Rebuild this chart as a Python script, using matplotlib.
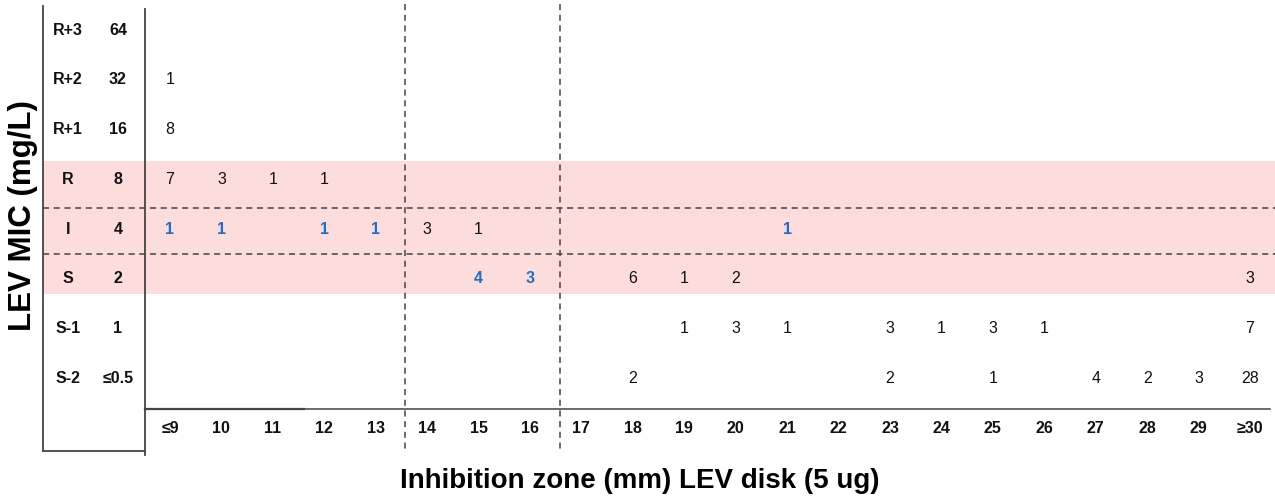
import matplotlib.pyplot as plt

plt.rcParams['font.family'] = ['Liberation Sans', 'DejaVu Sans']

# zone diameter columns (mm) and MIC rows
zones = ['≤9', '10', '11', '12', '13', '14', '15', '16', '17', '18', '19',
         '20', '21', '22', '23', '24', '25', '26', '27', '28', '29', '≥30']
row_codes = ['R+3', 'R+2', 'R+1', 'R', 'I', 'S', 'S-1', 'S-2']
mic_values = ['64', '32', '16', '8', '4', '2', '1', '≤0.5']

# isolate counts per row: {zone label: count}
counts_r3 = {}
counts_r2 = {'≤9': 1}
counts_r1 = {'≤9': 8}
counts_r = {'≤9': 7, '10': 3, '11': 1, '12': 1}
counts_i = {'≤9': 1, '10': 1, '12': 1, '13': 1, '14': 3, '15': 1, '21': 1}
counts_s = {'15': 4, '16': 3, '18': 6, '19': 1, '20': 2, '≥30': 3}
counts_s1 = {'19': 1, '20': 3, '21': 1, '23': 3, '24': 1, '25': 3, '26': 1, '≥30': 7}
counts_s2 = {'18': 2, '23': 2, '25': 1, '27': 4, '28': 2, '29': 3, '≥30': 28}
all_counts = [counts_r3, counts_r2, counts_r1, counts_r, counts_i,
              counts_s, counts_s1, counts_s2]

# cells highlighted in blue (row code, zone)
blue_cells = [('I', '≤9'), ('I', '10'), ('I', '12'), ('I', '13'), ('I', '21'),
              ('S', '15'), ('S', '16')]

BLUE = '#1f6fc8'
PINK = '#fddcdc'
LINE = '#444444'
FS = 11.5

fig = plt.figure(figsize=(12.75, 5.02), dpi=100)
ax = fig.add_axes([0, 0, 1, 1])
ax.set_xlim(-3.305, 21.486)
ax.set_ylim(9.487, -0.603)
ax.axis('off')

# pink band for R / I / S
ax.fill_between([-2.47, 21.486], 2.653, 5.327, color=PINK, zorder=0, lw=0)
for yy in [3.598, 4.523]:
    ax.plot([-2.47, 21.486], [yy, yy], ls=(0, (4, 3)), color=LINE, lw=1.1, zorder=1)

# frame lines
ax.plot([-2.47, -2.47], [-0.46, 8.48], color=LINE, lw=1.3)
ax.plot([-2.47, -0.486], [8.48, 8.48], color=LINE, lw=1.3)
ax.plot([-0.486, -0.486], [-0.40, 8.56], color=LINE, lw=1.3)
ax.plot([-0.486, 21.39], [7.64, 7.64], color=LINE, lw=1.1)
ax.plot([-0.486, 2.6], [7.64, 7.64], color=LINE, lw=1.6)
for xx in [4.57, 7.58]:
    ax.plot([xx, xx], [-0.5, 8.5], ls=(0, (4, 3)), color=LINE, lw=1.1, zorder=1)

# row labels
for k, (code, mic) in enumerate(zip(row_codes, mic_values)):
    ax.text(-1.983, k, code, ha='center', va='center', fontsize=FS,
            fontweight='bold', color='#111111')
    ax.text(-1.011, k, mic, ha='center', va='center', fontsize=FS,
            fontweight='bold', color='#111111')

# zone labels
for i, z in enumerate(zones):
    ax.text(i, 8, z, ha='center', va='center', fontsize=FS,
            fontweight='bold', color='#111111')

# counts
for k, row in enumerate(all_counts):
    for z, n in row.items():
        i = zones.index(z)
        if (row_codes[k], z) in blue_cells:
            ax.text(i, k, str(n), ha='center', va='center', fontsize=FS,
                    fontweight='bold', color=BLUE)
        else:
            ax.text(i, k, str(n), ha='center', va='center', fontsize=FS,
                    color='#111111')

# axis titles
fig.text(0.018, 0.57, 'LEV MIC (mg/L)', rotation=90, ha='center', va='center',
         fontsize=22.5, fontweight='bold')
fig.text(0.502, 0.042, 'Inhibition zone (mm) LEV disk (5 ug)', ha='center',
         va='center', fontsize=20, fontweight='bold')

fig.savefig('out.png', dpi=100)
